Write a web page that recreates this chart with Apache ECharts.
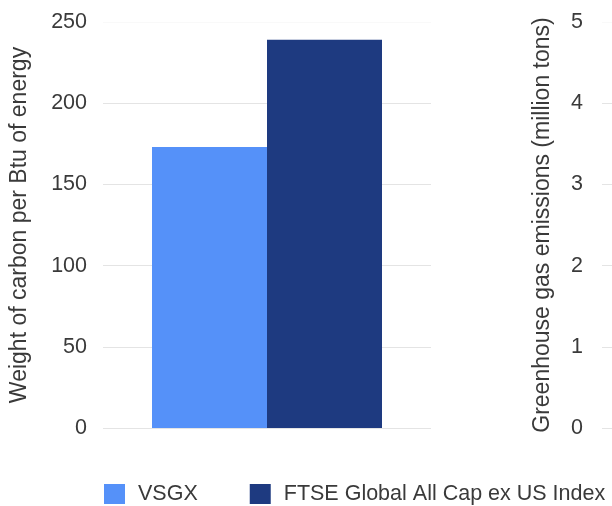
<!DOCTYPE html>
<html><head><meta charset="utf-8">
<script src="https://cdn.jsdelivr.net/npm/echarts@6/dist/echarts.min.js"></script>
<style>html,body{margin:0;padding:0;background:#fff}#c{width:612px;height:506px}</style>
</head><body><div id="c"></div>
<script>
const categories = ['Weight of carbon'];
const seriesNames = ['VSGX', 'FTSE Global All Cap ex US Index'];
const vsgxValues = [173];
const ftseValues = [239];
const leftAxisTitle = 'Weight of carbon per Btu of energy';
const rightAxisTitle = 'Greenhouse gas emissions (million tons)';
const colors = ['#5591f9', '#1e3a80'];

const font = 'Liberation Sans, Arial, sans-serif';
const txt = '#3a3a3a';
const gridColors = ['#e4e4e4', '#e4e4e4', '#e4e4e4', '#e4e4e4', '#e4e4e4', '#f9f9f9'];
const chart = echarts.init(document.getElementById('c'));
chart.setOption({
  animation: false,
  textStyle: { fontFamily: font },
  legend: {
    data: seriesNames, left: 104, top: 483, padding: 0, itemWidth: 21, itemHeight: 20, itemGap: 52,
    icon: 'rect',
    textStyle: { fontSize: 21.5, color: txt, fontFamily: font, padding: [0, 0, 0, 8] }
  },
  grid: [
    { left: 101, width: 330, top: 22, bottom: 78 },
    { left: 602, width: 330, top: 22, bottom: 78 }
  ],
  xAxis: [
    { type: 'category', gridIndex: 0, data: categories, axisLine: { show: false }, axisTick: { show: false }, axisLabel: { show: false } },
    { type: 'category', gridIndex: 1, data: categories, axisLine: { show: false }, axisTick: { show: false }, axisLabel: { show: false } }
  ],
  yAxis: [
    { type: 'value', gridIndex: 0, min: 0, max: 250, interval: 50,
      name: leftAxisTitle, nameLocation: 'middle', nameGap: 72,
      nameTextStyle: { fontSize: 23, color: txt, fontFamily: font },
      axisLabel: { fontSize: 21.5, color: txt, margin: 16, fontFamily: font },
      axisLine: { show: false }, axisTick: { show: false },
      splitLine: { lineStyle: { color: gridColors, width: 1 } } },
    { type: 'value', gridIndex: 1, min: 0, max: 5, interval: 1,
      name: rightAxisTitle, nameLocation: 'middle', nameGap: 48,
      nameTextStyle: { fontSize: 23, color: txt, fontFamily: font },
      axisLabel: { fontSize: 21.5, color: txt, margin: 19, fontFamily: font },
      axisLine: { show: false }, axisTick: { show: false },
      splitLine: { lineStyle: { color: gridColors, width: 1 } } }
  ],
  series: [
    { name: seriesNames[0], type: 'bar', xAxisIndex: 0, yAxisIndex: 0, data: vsgxValues, barWidth: 115, barGap: '0%', itemStyle: { color: colors[0] } },
    { name: seriesNames[1], type: 'bar', xAxisIndex: 0, yAxisIndex: 0, data: ftseValues, barWidth: 115, barGap: '0%', itemStyle: { color: colors[1] } }
  ]
});
</script></body></html>
